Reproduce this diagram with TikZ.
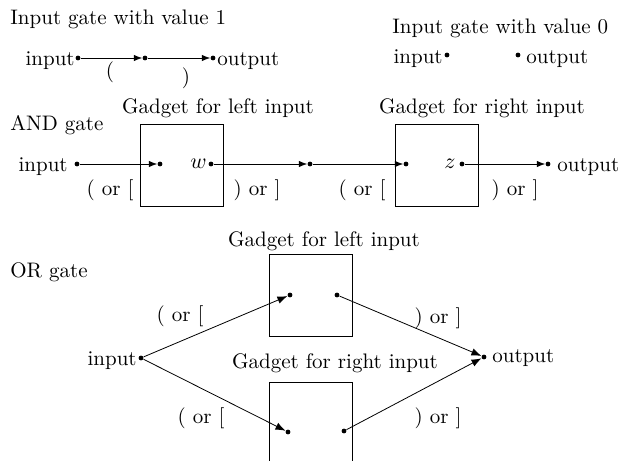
\documentclass[tikz,border=0pt]{standalone}
\usepackage{amsmath, amssymb}
\usepackage{tikz}
\usetikzlibrary{positioning, arrows.meta}

\begin{document}
\begin{tikzpicture}[x=0.5pt,y=-0.5pt,>={Latex[length=4.2pt,width=3.2pt]},
       dot/.style={circle,fill,inner sep=0pt,minimum size=2.4pt},
       txt/.style={inner sep=0pt,font=\fontsize{10.5}{12.6}\selectfont},
       gadget/.style={draw,rectangle,inner sep=0pt,minimum width=41.5pt,minimum height=41pt}]
       \useasboundingbox (0,0) rectangle (623,461);
       \clip (0,0) rectangle (623,461);

       % input gate with value 1
       \node[txt,anchor=base west] (one) at (10,24) {Input gate with value 1};
       \node[dot] (in1) at (78,58) {};
       \node[dot] (m1) at (145,58) {};
       \node[dot] (out1) at (213,58) {};
       \node[txt,anchor=base east] (in1t) at (75,65) {input};
       \node[txt,anchor=base west] (out1t) at (217,65) {output};
       \node[txt] (lp1) at (110,72) {(};
       \node[txt] (rp1) at (186,78) {)};
       \path[->] (in1) edge (m1)
                 (m1) edge (out1);

       % input gate with value 0
       \node[txt,anchor=base west] (zero) at (392,33) {Input gate with value 0};
       \node[dot] (in0) at (447,55) {};
       \node[dot] (out0) at (518,55) {};
       \node[txt,anchor=base east] (in0t) at (443,63) {input};
       \node[txt,anchor=base west] (out0t) at (526,63) {output};

       % AND gate
       \node[txt,anchor=base west] (andt) at (10,130) {AND gate};
       \node[gadget] (gl) at (181.5,165) {};
       \node[gadget] (gr) at (436.5,165) {};
       \node[txt,anchor=base] (glt) at (218,113) {Gadget for left input};
       \node[txt,anchor=base] (grt) at (482,113) {Gadget for right input};
       \node[dot] (in2) at (77,164) {};
       \node[dot] (a1) at (160,164) {};
       \node[dot] (w) at (211,164) {};
       \node[dot] (m2) at (310,164) {};
       \node[dot] (b1) at (406,164) {};
       \node[dot] (z) at (462,164) {};
       \node[dot] (out2) at (548,164) {};
       \node[txt,anchor=base east] (in2t) at (68,171) {input};
       \node[txt,anchor=base west] (out2t) at (557,171) {output};
       \node[txt,anchor=east] (wt) at (207,164) {$w$};
       \node[txt,anchor=east] (zt) at (456,164) {$z$};
       \node[txt] (lp2) at (110,190) {( or [};
       \node[txt] (rp2) at (257,190) {) or ]};
       \node[txt] (lp3) at (362,190) {( or [};
       \node[txt] (rp3) at (515,190) {) or ]};
       \path[->] (in2) edge (a1)
                 (w) edge (m2)
                 (m2) edge (b1)
                 (z) edge (out2);

       % OR gate
       \node[txt,anchor=base west] (ort) at (10,277) {OR gate};
       \node[gadget] (hl) at (310.5,295) {};
       \node[gadget] (hr) at (310.5,423) {};
       \node[txt,anchor=base] (hlt) at (324,246) {Gadget for left input};
       \node[txt,anchor=base] (hrt) at (335,368) {Gadget for right input};
       \node[dot] (in3) at (141,358) {};
       \node[dot] (c1) at (290,295) {};
       \node[dot] (c2) at (337,295) {};
       \node[dot] (d1) at (288,432) {};
       \node[dot] (d2) at (344,431) {};
       \node[dot] (out3) at (484,357) {};
       \node[txt,anchor=base east] (in3t) at (137,365) {input};
       \node[txt,anchor=base west] (out3t) at (492,362) {output};
       \node[txt] (lp4) at (180,316) {( or [};
       \node[txt] (lp5) at (201,418) {( or [};
       \node[txt] (rp4) at (438,318) {) or ]};
       \node[txt] (rp5) at (438,418) {) or ]};
       \path[->,>={Latex[length=5pt,width=3.8pt]}]
            (in3) edge (c1)
                  edge (d1)
            (c2) edge (out3)
            (d2) edge (out3);
\end{tikzpicture}
\end{document}
